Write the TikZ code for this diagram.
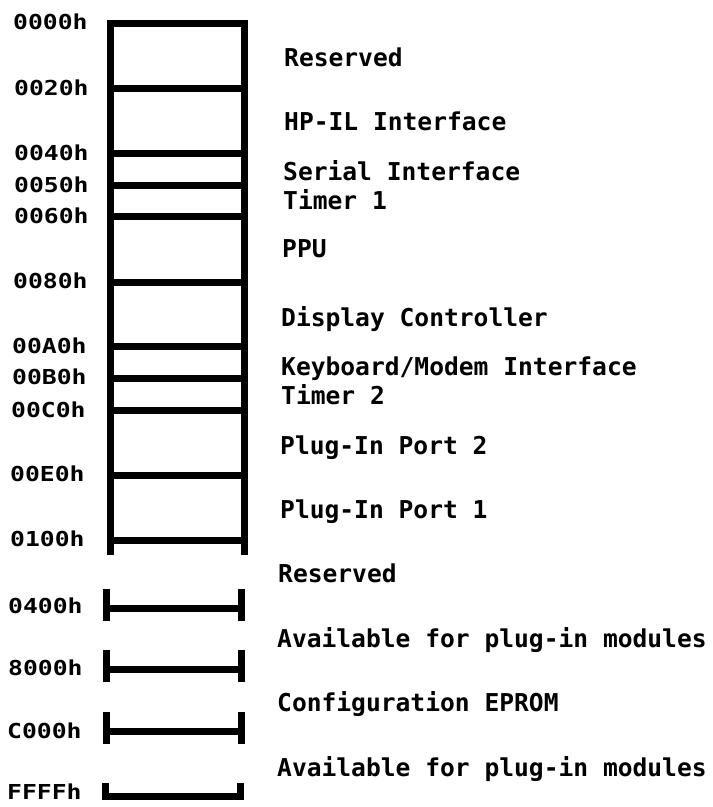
\documentclass[tikz,border=0pt]{standalone}
\usepackage{fontspec}
\newfontfamily\addrfont[FakeStretch=1.2]{DejaVu Sans Mono}
\newfontfamily\descfont{DejaVu Sans Mono}
\begin{document}
\begin{tikzpicture}[x=1pt,y=-1pt,
  rule/.style={line width=7pt},
  addr/.style={anchor=west,inner sep=0pt,text height=15pt,text depth=0pt,
    font=\addrfont\bfseries\fontsize{20.6}{20.6}\selectfont},
  desc/.style={anchor=west,inner sep=0pt,text height=18pt,text depth=0pt,
    font=\descfont\bfseries\fontsize{24.6}{24.6}\selectfont}]
\fill[white] (0,0) rectangle (713,807);
\useasboundingbox (0,0) rectangle (713,807);
% main box
\draw[rule,line join=miter] (110,555) -- (110,23) -- (244,23) -- (244,555);
\foreach \yy in {88,153,185,216,282,346,378,410,475,540}
  \draw[rule] (110,\yy) -- (244,\yy);
% brackets
\foreach \yy in {608,669,731}{
  \draw[rule] (106,\yy-19) -- (106,\yy+13);
  \draw[rule] (241,\yy-19) -- (241,\yy+13);
  \draw[rule] (106,\yy) -- (241,\yy);
}
\draw[rule,line join=miter] (105,783) -- (105,796) -- (240,796) -- (240,783);
% address labels
\node[addr] (a0000) at (13,22) {0000h};
\node[addr] (a0020) at (14,88) {0020h};
\node[addr] (a0040) at (14,153) {0040h};
\node[addr] (a0050) at (14,185) {0050h};
\node[addr] (a0060) at (14,216) {0060h};
\node[addr] (a0080) at (13,281) {0080h};
\node[addr] (a00A0) at (12,346) {00A0h};
\node[addr] (a00B0) at (12,377) {00B0h};
\node[addr] (a00C0) at (11,410) {00C0h};
\node[addr] (a00E0) at (10,474) {00E0h};
\node[addr] (a0100) at (10,539) {0100h};
\node[addr] (a0400) at (8,606) {0400h};
\node[addr] (a8000) at (8,668) {8000h};
\node[addr] (aC000) at (7,731) {C000h};
\node[addr] (aFFFF) at (7,792) {FFFFh};
% descriptions
\node[desc] (d1) at (284,57) {Reserved};
\node[desc] (d2) at (284,121) {HP-IL Interface};
\node[desc] (d3) at (283,171) {Serial Interface};
\node[desc] (d4) at (283,200) {Timer 1};
\node[desc] (d5) at (282,248) {PPU};
\node[desc] (d6) at (281,317) {Display Controller};
\node[desc] (d7) at (281,366) {Keyboard/Modem Interface};
\node[desc] (d8) at (281,395) {Timer 2};
\node[desc] (d9) at (280,445) {Plug-In Port 2};
\node[desc] (d10) at (280,509) {Plug-In Port 1};
\node[desc] (d11) at (278,573) {Reserved};
\node[desc] (d12) at (277,638) {Available for plug-in modules};
\node[desc] (d13) at (277,702) {Configuration EPROM};
\node[desc] (d14) at (277,767) {Available for plug-in modules};
\end{tikzpicture}
\end{document}
